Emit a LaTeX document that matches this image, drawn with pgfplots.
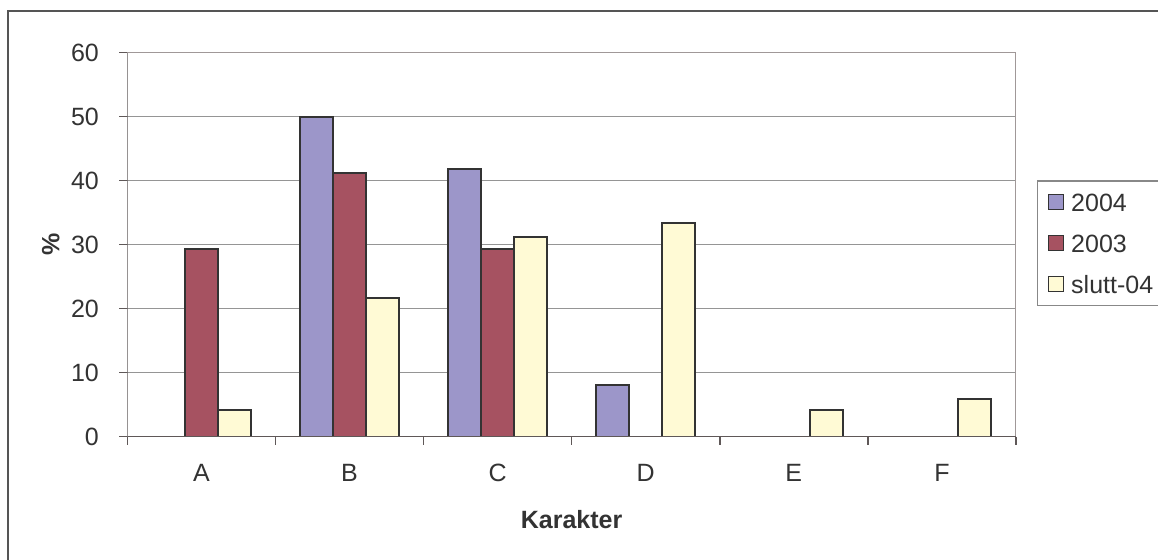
\documentclass[border=0pt]{standalone}
\usepackage{pgfplots}
\pgfplotsset{compat=1.18}
\usepackage{fontspec}
\setmainfont{Liberation Sans}
\definecolor{cA}{HTML}{9C96C9}
\definecolor{cB}{HTML}{A65261}
\definecolor{cC}{HTML}{FFFAD5}
\definecolor{edge}{HTML}{333333}
\definecolor{gridc}{HTML}{959595}
\definecolor{axc}{HTML}{5F5858}
\definecolor{brd}{HTML}{A09898}
\definecolor{txt}{HTML}{333333}
\definecolor{framec}{HTML}{555555}
\definecolor{legc}{HTML}{888888}
\newcommand{\fs}{\fontsize{12.5}{15}\selectfont}
\begin{document}
\begin{tikzpicture}[x=0.5pt,y=0.5pt]
\useasboundingbox (0,0) rectangle (1158,559);
\clip (0,0) rectangle (1158,559);
\fill[white] (0,0) rectangle (1158,559);
\draw[framec, line width=1pt] (7.5,548.3) rectangle (1300,-100);
\begin{axis}[
  at={(63.65pt,61.15pt)}, anchor=south west, scale only axis,
  width=444.35pt, height=192pt,
  xmin=-0.5, xmax=5.5, ymin=0, ymax=60,
  ybar=0pt, bar width=16.5pt,
  xtick={-0.5,0.5,...,5.5}, xticklabels={},
  extra x ticks={0,1,2,3,4,5}, extra x tick labels={A,B,C,D,E,F},
  extra x tick style={major tick length=0pt},
  ytick={0,10,...,60},
  xtick pos=bottom, ytick pos=left,
  tick align=outside, major tick length=4pt,
  tick style={axc, line width=0.75pt},
  ymajorgrids, grid style={gridc, line width=0.75pt},
  axis line style={draw=none},
  /pgf/number format/assume math mode=true,
  xticklabel style={font=\fs, text=txt, inner sep=0pt, anchor=north, yshift=-13.5pt},
  yticklabel style={font=\fs, text=txt, inner sep=0pt, anchor=east, xshift=-10pt},
  xlabel={Karakter}, xlabel style={at={(axis description cs:0.5,-0.217)}, anchor=center, font=\fs\bfseries, text=txt},
  ylabel={\%}, ylabel style={at={(axis description cs:-0.0862,0.5)}, anchor=center, font=\fs\bfseries, text=txt},
  legend style={at={(axis description cs:1.0236,0.6685)}, anchor=north west, draw=legc, line width=0.75pt,
    inner xsep=5pt, inner ysep=6.2pt, row sep=11.5pt, column sep=3.5pt, font=\fs, text=txt,
    nodes={inner sep=0pt, text height=9pt, text depth=0pt}},
  legend cell align=left,
  legend image code/.code={\draw[#1, line width=0.75pt] (0pt,-3.75pt) rectangle (7.5pt,3.75pt);},
]
\addplot[fill=cA, draw=edge, line width=1pt] coordinates {(1,50) (2,41.9) (3,8.1)};
\addplot[fill=cB, draw=edge, line width=1pt] coordinates {(0,29.4) (1,41.2) (2,29.4)};
\addplot[fill=cC, draw=edge, line width=1pt] coordinates {(0,4.1) (1,21.6) (2,31.2) (3,33.4) (4,4.1) (5,5.9)};
\legend{2004,2003,slutt-04}
\draw[brd, line width=0.75pt] (axis description cs:0,1) -- (axis description cs:1,1) -- (axis description cs:1,0);
\draw[axc, line width=0.75pt] (axis description cs:0,1) -- (axis description cs:0,0) -- (axis description cs:1,0);
\end{axis}
\end{tikzpicture}
\end{document}
